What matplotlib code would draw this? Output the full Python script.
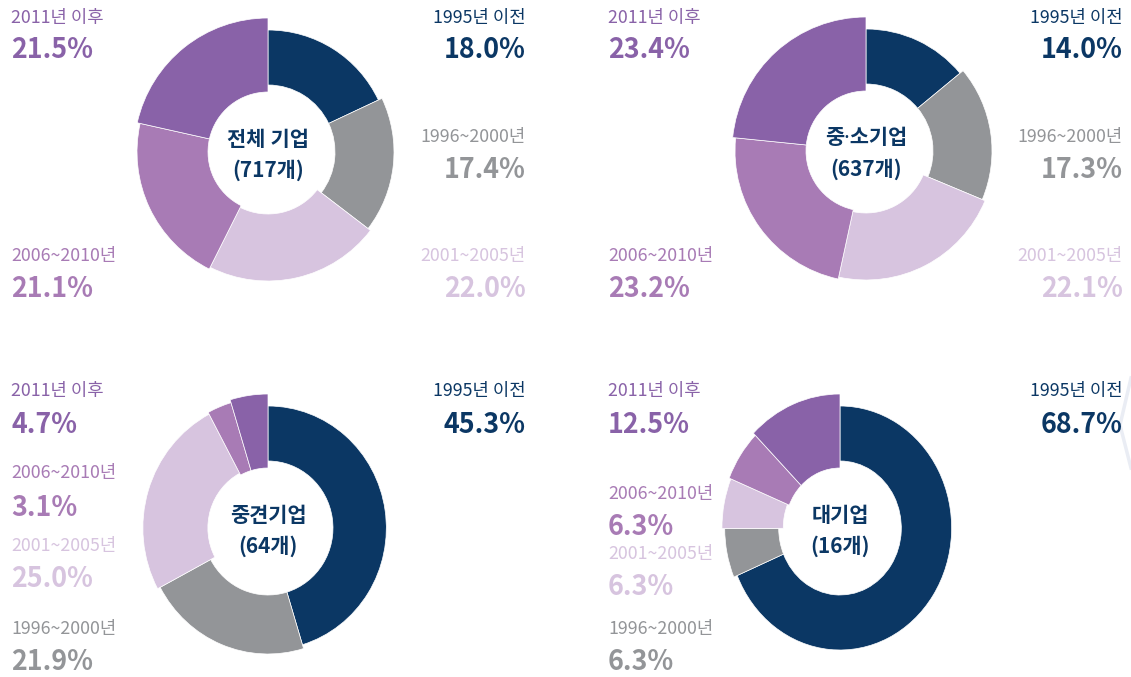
import numpy as np
import matplotlib
matplotlib.use('Agg')
import matplotlib.pyplot as plt
from matplotlib.lines import Line2D

plt.rcParams['font.family'] = ['Noto Sans CJK KR', 'DejaVu Sans']

# %% data
periods = ['1995년 이전', '1996~2000년', '2001~2005년', '2006~2010년', '2011년 이후']
groups = ['전체 기업', '중·소기업', '중견기업', '대기업']
counts = [717, 637, 64, 16]
share_all = [18.0, 17.4, 22.0, 21.1, 21.5]
share_sme = [14.0, 17.3, 22.1, 23.2, 23.4]
share_mid = [45.3, 21.9, 25.0, 3.1, 4.7]
share_large = [68.7, 6.3, 6.3, 6.3, 12.5]
shares = [share_all, share_sme, share_mid, share_large]

# %% style / layout (pixels, top-left origin)
colors = ['#0b3764', '#939598', '#d7c4df', '#a87bb5', '#8962a8']
outer = [122, 126, 129, 131, 134]   # each slice a bit bigger
inner = [67, 67, 62, 60, 60]
W, H = 1131, 677

centers = [(268, 152), (866, 151), (268, 528), (840, 528)]
xscale = [1.0, 1.0, 0.97, 0.915]
x_left = [11, 608, 11, 608]
x_right = [526, 1123, 526, 1123]

# (side, label baseline, value baseline) for each period
top_layout = [('R', 23, 58), ('R', 142, 178), ('R', 261, 297), ('L', 261, 297), ('L', 23, 58)]
mid_layout = [('R', 396, 433), ('L', 634, 670), ('L', 551, 587), ('L', 478, 516), ('L', 396, 433)]
large_layout = [('R', 396, 433), ('L', 634, 670), ('L', 559, 595), ('L', 499, 535), ('L', 396, 433)]
layouts = [top_layout, top_layout, mid_layout, large_layout]

fig = plt.figure(figsize=(W / 100, H / 100), dpi=100)
fig.patch.set_facecolor('white')

# Noto Sans first only so the middle dot is narrow; hangul falls back to CJK
title_font = ['Noto Sans', 'Noto Sans CJK KR']
half = 150
for k in range(4):
    cx, cy = centers[k]
    sx = xscale[k]
    ax = fig.add_axes([(cx - half) / W, (H - cy - half) / H, 2 * half / W, 2 * half / H])
    wedges, _ = ax.pie(shares[k], colors=colors, startangle=90, counterclock=False,
                       radius=max(outer),
                       wedgeprops=dict(edgecolor='white', linewidth=0.5))
    for i, w in enumerate(wedges):
        w.set_radius(outer[i])
        w.set_width(outer[i] - inner[i])
    ax.set_aspect('auto')
    ax.set_xlim(-half / sx, half / sx)
    ax.set_ylim(-half, half)
    ax.axis('off')

    # center title
    ax.text(0, 12, groups[k], ha='center', va='center', fontsize=15,
            fontweight='bold', color=colors[0], family=title_font)
    ax.text(0, -18, f'({counts[k]}개)', ha='center', va='center', fontsize=15,
            fontweight='bold', color=colors[0])

    # period labels
    for i, (side, yl, yv) in enumerate(layouts[k]):
        if side == 'L':
            x, ha = x_left[k], 'left'
        else:
            x, ha = x_right[k], 'right'
        fig.text(x / W, 1 - yl / H, periods[i], ha=ha, va='baseline',
                 fontsize=12.8, fontweight='light', color=colors[i])
        fig.text(x / W, 1 - yv / H, f'{shares[k][i]:.1f}%', ha=ha, va='baseline',
                 fontsize=19.3, fontweight='bold', color=colors[i])

# faint decoration at right edge
fig.add_artist(Line2D(np.array([1131, 1120, 1131]) / W, 1 - np.array([378, 425, 468]) / H,
                      color='#eaedf4', lw=2.5))

plt.savefig('out.png', dpi=100)
